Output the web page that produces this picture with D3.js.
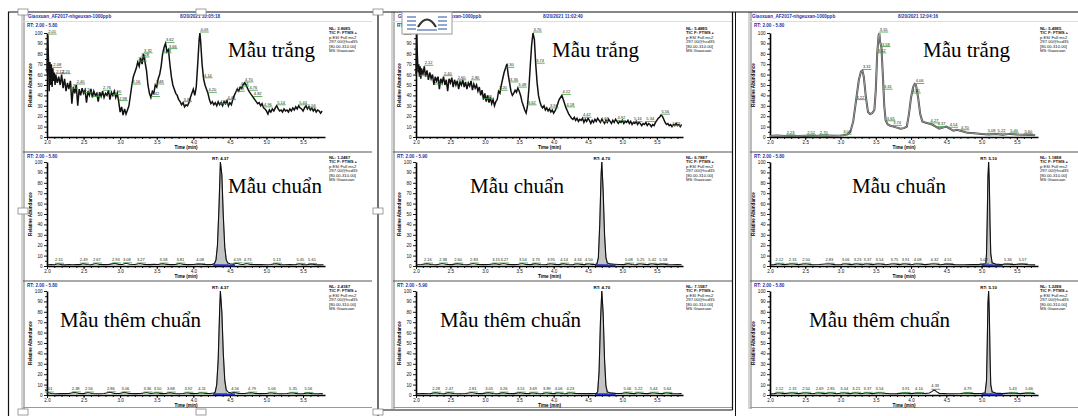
<!DOCTYPE html>
<html><head><meta charset="utf-8">
<script src="https://cdn.jsdelivr.net/npm/d3@7"></script>
<style>body{margin:0;background:#fff}svg{display:block;font-family:"Liberation Sans",Arial,sans-serif}</style>
</head><body><svg id="c" width="1078" height="416"></svg>
<script>
// ---------- DATA ----------
const sampleLabels = ["Mẫu trắng", "Mẫu chuẩn", "Mẫu thêm chuẩn"];
const yTickValues = [0,10,20,30,40,50,60,70,80,90,100];
const xTickValues = [2.0,2.5,3.0,3.5,4.0,4.5,5.0,5.5];
const timeRanges = ["RT: 2.00 - 5.80", "RT: 2.00 - 5.90", "RT: 2.00 - 5.80"];
const retentionTimes = [4.37, 4.70, 5.10];
const fileNames = ["Giaoxuan_AF2017-nhgeuxan-1000ppb", "Giaoxuan_AF2017-nhgeuxan-1000ppb", "Giaoxuan_AF2017-nhgeuxan-1000ppb"];
const runDates = ["8/20/2021 10:05:18", "8/20/2021 11:02:40", "8/20/2021 12:04:16"];
const nlValues = [["3.86E5","1.24E7","2.41E7"],["5.48E5","6.78E7","7.15E7"],["5.49E5","1.18E8","1.22E8"]];
const infoLines = ["TIC F: FTMS +", "p ESI Full ms2", "297.00@hcd35", "[80.00-310.00]", "MS Giaoxuan"];

const col1Top = [[2.00,62],[2.01,98],[2.02,75],[2.03,44],[2.04,72],[2.05,50],[2.06,70],[2.07,48],[2.08,66],[2.09,54],[2.10,62],[2.11,50],[2.12,60],[2.14,52],[2.16,58],[2.18,50],[2.20,60],[2.22,47],[2.24,56],[2.26,44],[2.28,52],[2.30,46],[2.32,54],[2.34,32],[2.36,48],[2.38,42],[2.40,50],[2.42,30],[2.44,46],[2.46,40],[2.48,47],[2.50,42],[2.52,45],[2.54,33],[2.56,44],[2.58,40],[2.60,46],[2.62,38],[2.64,44],[2.66,40],[2.68,42],[2.70,34],[2.72,43],[2.74,39],[2.76,44],[2.78,38],[2.80,42],[2.82,40],[2.84,45],[2.86,36],[2.88,43],[2.90,40],[2.92,44],[2.94,38],[2.96,42],[2.98,34],[3.00,24],[3.02,29],[3.04,21],[3.06,27],[3.08,22],[3.10,26],[3.12,30],[3.14,40],[3.16,50],[3.18,58],[3.20,62],[3.22,66],[3.24,72],[3.26,68],[3.28,76],[3.30,70],[3.32,80],[3.34,72],[3.36,64],[3.38,50],[3.40,42],[3.42,38],[3.44,44],[3.46,42],[3.48,50],[3.50,48],[3.52,56],[3.54,60],[3.56,68],[3.58,80],[3.60,86],[3.62,90],[3.64,82],[3.66,84],[3.68,70],[3.70,58],[3.72,50],[3.74,46],[3.76,42],[3.78,40],[3.80,36],[3.82,34],[3.84,31],[3.86,33],[3.88,29],[3.90,31],[3.92,30],[3.94,33],[3.96,38],[3.98,42],[4.00,46],[4.02,40],[4.04,48],[4.06,70],[4.08,94],[4.09,100],[4.10,92],[4.12,70],[4.14,56],[4.16,50],[4.18,46],[4.20,42],[4.22,36],[4.24,32],[4.26,34],[4.28,31],[4.30,33],[4.32,30],[4.34,34],[4.36,31],[4.38,33],[4.40,30],[4.42,34],[4.44,32],[4.46,35],[4.48,30],[4.50,33],[4.52,31],[4.54,36],[4.56,40],[4.58,43],[4.60,46],[4.62,44],[4.64,48],[4.66,47],[4.68,50],[4.70,52],[4.72,50],[4.74,47],[4.76,44],[4.78,42],[4.80,40],[4.82,38],[4.84,36],[4.86,34],[4.88,32],[4.90,33],[4.92,30],[4.94,32],[4.96,28],[4.98,27],[5.00,25],[5.02,22],[5.04,26],[5.06,24],[5.08,27],[5.10,25],[5.12,28],[5.14,30],[5.16,27],[5.18,25],[5.20,26],[5.22,24],[5.24,27],[5.26,25],[5.28,26],[5.30,24],[5.32,27],[5.34,25],[5.36,28],[5.38,26],[5.40,29],[5.42,27],[5.44,30],[5.46,28],[5.48,27],[5.50,25],[5.52,28],[5.54,30],[5.56,27],[5.58,29],[5.60,26],[5.62,28],[5.64,25],[5.66,27],[5.68,24],[5.70,26],[5.72,25],[5.74,23],[5.76,25]];

const col2Top = [[2.00,60],[2.01,100],[2.02,78],[2.03,62],[2.04,70],[2.05,58],[2.06,68],[2.07,56],[2.08,66],[2.10,60],[2.12,68],[2.14,58],[2.16,64],[2.18,55],[2.20,62],[2.22,56],[2.24,60],[2.26,50],[2.28,58],[2.30,54],[2.32,58],[2.34,46],[2.36,56],[2.38,52],[2.40,58],[2.42,50],[2.44,55],[2.46,44],[2.48,56],[2.50,52],[2.52,57],[2.54,48],[2.56,55],[2.58,50],[2.60,54],[2.62,46],[2.64,53],[2.66,50],[2.68,55],[2.70,48],[2.72,53],[2.74,46],[2.76,52],[2.78,49],[2.80,54],[2.82,45],[2.84,51],[2.86,47],[2.88,50],[2.90,44],[2.92,48],[2.94,40],[2.96,45],[2.98,36],[3.00,42],[3.02,34],[3.04,40],[3.06,33],[3.08,38],[3.10,32],[3.12,36],[3.14,30],[3.16,34],[3.18,36],[3.20,44],[3.22,42],[3.24,50],[3.26,56],[3.28,62],[3.30,66],[3.32,70],[3.34,60],[3.36,52],[3.38,44],[3.40,40],[3.42,42],[3.44,45],[3.46,43],[3.48,47],[3.50,44],[3.52,40],[3.54,34],[3.56,30],[3.58,26],[3.60,23],[3.62,30],[3.64,46],[3.66,68],[3.68,88],[3.70,100],[3.72,94],[3.74,70],[3.76,52],[3.78,40],[3.80,34],[3.82,30],[3.84,28],[3.86,30],[3.88,26],[3.90,28],[3.92,25],[3.94,27],[3.96,24],[3.98,26],[4.00,23],[4.02,25],[4.04,28],[4.06,32],[4.08,36],[4.10,38],[4.12,40],[4.14,36],[4.16,32],[4.18,28],[4.20,25],[4.22,22],[4.24,20],[4.26,18],[4.28,17],[4.30,19],[4.32,16],[4.34,18],[4.36,15],[4.38,17],[4.40,16],[4.42,18],[4.44,14],[4.46,17],[4.48,15],[4.50,18],[4.52,16],[4.54,13],[4.56,16],[4.58,14],[4.60,17],[4.62,15],[4.64,18],[4.66,16],[4.68,14],[4.70,17],[4.72,15],[4.74,13],[4.76,16],[4.78,14],[4.80,17],[4.82,15],[4.84,13],[4.86,16],[4.88,14],[4.90,17],[4.92,15],[4.94,13],[4.96,15],[4.98,14],[5.00,16],[5.02,13],[5.04,15],[5.06,14],[5.08,16],[5.10,13],[5.12,15],[5.14,12],[5.16,14],[5.18,13],[5.20,15],[5.22,12],[5.24,14],[5.26,13],[5.28,11],[5.30,13],[5.32,12],[5.34,14],[5.36,11],[5.38,13],[5.40,12],[5.42,10],[5.44,12],[5.46,11],[5.48,14],[5.50,16],[5.52,18],[5.54,19],[5.56,21],[5.58,20],[5.60,17],[5.62,14],[5.64,12],[5.66,13],[5.68,11],[5.70,12],[5.72,10],[5.74,12],[5.76,11],[5.78,13],[5.80,11],[5.82,12],[5.84,10],[5.86,12]];

const col3Top = [[2.00,1],[2.10,1.5],[2.20,1],[2.30,1.2],[2.40,1],[2.50,1.3],[2.60,1],[2.70,1.2],[2.80,1.5],[2.90,1.2],[3.00,1.5],[3.05,1.8],[3.10,2.5],[3.14,5],[3.18,15],[3.22,35],[3.26,55],[3.29,63],[3.31,64],[3.33,58],[3.36,38],[3.39,24],[3.42,22],[3.45,23],[3.48,26],[3.50,45],[3.52,80],[3.54,98],[3.55,100],[3.56,92],[3.58,86],[3.60,60],[3.62,30],[3.64,16],[3.67,12],[3.70,11],[3.75,10],[3.80,9],[3.85,8],[3.90,8.5],[3.94,10],[3.97,22],[4.00,38],[4.03,48],[4.05,51],[4.07,50],[4.10,38],[4.13,22],[4.16,15],[4.20,14],[4.25,13],[4.30,12],[4.35,10],[4.40,8],[4.45,9],[4.50,10],[4.55,8],[4.60,6],[4.65,7],[4.70,6],[4.75,5],[4.80,4],[4.90,3.5],[5.00,3],[5.10,2.5],[5.20,2.8],[5.30,2.2],[5.40,3],[5.50,2.5],[5.60,2.2],[5.70,2],[5.76,1.8]];

const col1Mid = [[2.00,1.0],[2.05,1.4],[2.10,1.2],[2.15,2.2],[2.20,1.3],[2.25,1.1],[2.30,1.4],[2.35,1.2],[2.40,1.5],[2.45,1.3],[2.49,2.3],[2.55,1.4],[2.60,1.2],[2.67,2.4],[2.72,1.5],[2.78,1.3],[2.85,1.6],[2.93,2.5],[2.98,1.6],[3.03,1.4],[3.08,2.6],[3.13,1.7],[3.20,1.5],[3.27,2.4],[3.33,1.5],[3.40,1.3],[3.46,1.6],[3.52,1.4],[3.58,2.3],[3.64,1.5],[3.70,1.3],[3.76,1.6],[3.81,2.4],[3.87,1.5],[3.93,1.3],[4.00,1.4],[4.08,2.0],[4.14,1.4],[4.20,1.3],[4.26,1.6],[4.29,2.5],[4.31,6],[4.33,20],[4.35,55],[4.37,100],[4.39,88],[4.41,48],[4.43,18],[4.45,6],[4.47,3],[4.50,2.2],[4.55,1.8],[4.59,2.6],[4.64,1.7],[4.68,1.5],[4.73,2.4],[4.78,1.5],[4.85,1.3],[4.92,1.5],[5.00,1.2],[5.06,1.4],[5.13,2.3],[5.19,1.3],[5.25,1.2],[5.32,1.4],[5.39,1.2],[5.45,2.1],[5.50,1.3],[5.56,1.2],[5.61,2.0],[5.67,1.3],[5.72,1.1],[5.78,1.2]];

const col1Bot = [[2.00,1.2],[2.01,2.4],[2.06,1.4],[2.12,1.2],[2.18,1.5],[2.24,1.3],[2.30,1.4],[2.38,2.5],[2.44,1.5],[2.50,1.3],[2.56,2.4],[2.62,1.4],[2.70,1.2],[2.78,1.5],[2.86,2.6],[2.92,1.6],[2.99,1.4],[3.06,2.5],[3.12,1.5],[3.20,1.3],[3.28,1.5],[3.36,2.4],[3.42,1.4],[3.50,2.2],[3.56,1.3],[3.62,1.5],[3.68,2.3],[3.74,1.4],[3.80,1.2],[3.86,1.5],[3.92,2.2],[3.98,1.3],[4.05,1.4],[4.11,2.1],[4.17,1.4],[4.23,1.5],[4.28,2.0],[4.30,3],[4.32,10],[4.34,34],[4.36,82],[4.37,100],[4.39,80],[4.41,40],[4.43,14],[4.45,5],[4.48,2.6],[4.52,1.8],[4.56,2.5],[4.62,1.6],[4.70,1.4],[4.79,2.3],[4.85,1.4],[4.92,1.3],[5.00,1.5],[5.06,2.2],[5.12,1.4],[5.20,1.2],[5.28,1.5],[5.35,2.1],[5.42,1.3],[5.50,1.2],[5.56,2.0],[5.62,1.3],[5.70,1.2],[5.77,1.3]];

const col2Mid = [[2.00,1.2],[2.08,1.4],[2.16,2.3],[2.22,1.4],[2.30,1.2],[2.38,2.4],[2.45,1.5],[2.52,1.3],[2.60,2.3],[2.68,1.4],[2.75,1.2],[2.83,2.4],[2.90,1.5],[2.98,1.3],[3.06,1.5],[3.15,2.3],[3.21,1.5],[3.27,2.4],[3.34,1.4],[3.42,1.3],[3.48,1.5],[3.54,2.4],[3.60,1.5],[3.67,1.3],[3.73,2.3],[3.80,1.4],[3.88,1.2],[3.95,2.2],[4.02,1.4],[4.08,1.3],[4.14,2.3],[4.20,1.4],[4.27,1.2],[4.34,2.2],[4.40,1.4],[4.45,1.3],[4.50,2.1],[4.56,1.5],[4.60,1.4],[4.63,2.2],[4.65,8],[4.67,40],[4.69,88],[4.70,100],[4.72,72],[4.74,30],[4.76,8],[4.78,3],[4.82,2.0],[4.88,1.7],[4.95,1.4],[5.02,1.3],[5.08,2.3],[5.14,1.4],[5.20,1.2],[5.25,2.2],[5.32,1.4],[5.38,1.3],[5.42,2.1],[5.50,1.3],[5.58,2.0],[5.65,1.3],[5.72,1.2],[5.80,1.3],[5.86,1.2]];

const col2Bot = [[2.00,1.2],[2.10,1.4],[2.20,1.2],[2.28,2.3],[2.35,1.4],[2.41,1.2],[2.47,2.3],[2.55,1.4],[2.64,1.2],[2.72,1.4],[2.81,2.4],[2.88,1.5],[2.96,1.3],[3.05,2.3],[3.12,1.4],[3.19,1.2],[3.26,2.3],[3.33,1.4],[3.42,1.3],[3.51,2.3],[3.58,1.4],[3.64,1.3],[3.69,2.2],[3.76,1.4],[3.83,1.2],[3.89,2.2],[3.96,1.4],[4.01,1.3],[4.06,2.2],[4.13,1.4],[4.18,1.2],[4.23,2.2],[4.32,1.4],[4.40,1.3],[4.48,1.5],[4.56,1.3],[4.62,1.6],[4.64,3],[4.66,22],[4.68,70],[4.70,100],[4.72,78],[4.74,34],[4.76,9],[4.78,3],[4.82,2.0],[4.90,1.6],[4.98,1.4],[5.06,2.3],[5.12,1.4],[5.18,1.3],[5.22,2.2],[5.30,1.4],[5.37,1.3],[5.44,2.2],[5.52,1.4],[5.58,1.3],[5.64,2.1],[5.72,1.3],[5.80,1.2],[5.86,1.3]];

const col3Mid = [[2.00,1.0],[2.06,1.3],[2.12,2.2],[2.20,1.3],[2.31,2.2],[2.40,1.3],[2.50,2.2],[2.60,1.2],[2.70,1.4],[2.83,2.2],[2.92,1.3],[3.00,1.2],[3.06,2.1],[3.15,1.3],[3.23,2.1],[3.30,1.2],[3.37,2.1],[3.45,1.3],[3.54,2.1],[3.64,1.2],[3.75,2.1],[3.83,1.3],[3.91,2.1],[4.00,1.2],[4.08,2.1],[4.20,1.3],[4.32,2.1],[4.42,1.2],[4.51,2.0],[4.62,1.3],[4.74,1.2],[4.86,1.4],[4.95,1.3],[5.02,2.0],[5.06,2.5],[5.07,12],[5.08,45],[5.09,85],[5.10,100],[5.11,80],[5.12,40],[5.13,12],[5.15,3],[5.20,1.8],[5.28,1.4],[5.36,2.0],[5.45,1.3],[5.57,2.0],[5.66,1.2],[5.76,1.1]];

const col3Bot = [[2.00,1.0],[2.06,1.3],[2.12,2.2],[2.20,1.3],[2.31,2.1],[2.40,1.3],[2.50,2.1],[2.60,1.2],[2.69,2.1],[2.77,1.3],[2.85,2.1],[2.95,1.2],[3.04,2.1],[3.13,1.3],[3.21,2.1],[3.29,1.2],[3.37,2.1],[3.45,1.3],[3.54,2.1],[3.70,1.2],[3.80,1.3],[3.91,2.0],[4.00,1.3],[4.10,2.0],[4.20,1.4],[4.26,2.0],[4.30,3.5],[4.33,5],[4.36,3.2],[4.40,1.6],[4.50,1.3],[4.60,1.2],[4.70,1.4],[4.79,2.0],[4.90,1.3],[5.00,1.4],[5.05,2.2],[5.07,14],[5.08,48],[5.09,88],[5.10,100],[5.11,78],[5.12,38],[5.13,10],[5.15,3],[5.20,1.8],[5.30,1.3],[5.43,2.0],[5.55,1.3],[5.66,2.0],[5.76,1.2]];

const col1TopPeaks = [2.01,2.08,2.12,2.20,2.30,2.40,2.50,2.62,2.76,2.90,2.98,3.16,3.24,3.28,3.32,3.42,3.48,3.58,3.62,3.66,3.86,4.09,4.14,4.20,4.36,4.46,4.58,4.64,4.70,4.76,4.82,4.96,5.14,5.44,5.56];
const col1MidMarks = [2.15,2.49,2.67,2.93,3.08,3.27,3.58,3.81,4.08,4.59,4.73,5.13,5.45,5.61];
const col1BotMarks = [2.01,2.38,2.56,2.86,3.06,3.36,3.50,3.68,3.92,4.11,4.56,4.79,5.06,5.35,5.56];
const col2TopPeaks = [2.01,2.05,2.12,2.26,2.40,2.60,2.80,2.98,3.20,3.30,3.36,3.48,3.62,3.70,3.74,3.94,4.12,4.18,4.42,4.68,4.92,5.16,5.34,5.56,5.72];
const col2MidMarks = [2.16,2.38,2.60,2.83,3.15,3.27,3.54,3.73,3.95,4.14,4.34,4.50,5.08,5.25,5.42,5.58];
const col2BotMarks = [2.28,2.47,2.81,3.05,3.26,3.51,3.69,3.89,4.06,4.23,5.06,5.22,5.44,5.64];
const col3TopPeaks = [2.23,2.52,2.70,3.03,3.22,3.31,3.52,3.55,3.58,3.61,3.65,3.74,4.01,4.06,4.27,4.37,4.54,4.70,5.08,5.22,5.40,5.60];
const col3MidMarks = [2.12,2.31,2.50,2.83,3.06,3.23,3.37,3.54,3.75,3.91,4.08,4.32,4.51,5.02,5.36,5.57];
const col3BotMarks = [2.12,2.31,2.50,2.69,2.85,3.04,3.21,3.37,3.54,3.91,4.10,4.33,4.79,5.43,5.66];

// ---------- LAYOUT ----------
const svg = d3.select("#c");
const columns = [
  {left:23, right:372, ax:47, xEnd:325, domain:[2.0,5.8], info:329, hdr:[28,180], traces:[col1Top,col1Mid,col1Bot], marks:[col1TopPeaks,col1MidMarks,col1BotMarks],
   lab:[[228,57],[228,193],[60,327]], topStyle:"noisy"},
  {left:393, right:732, ax:416, xEnd:683, domain:[2.0,5.88], info:686, hdr:[398,543], traces:[col2Top,col2Mid,col2Bot], marks:[col2TopPeaks,col2MidMarks,col2BotMarks],
   lab:[[552,57],[470,193],[440,327]], topStyle:"noisy"},
  {left:750, right:1078, ax:770, xEnd:1038, domain:[2.0,5.8], info:1040, hdr:[752,898], traces:[col3Top,col3Mid,col3Bot], marks:[col3TopPeaks,col3MidMarks,col3BotMarks],
   lab:[[923,57],[852,193],[809,327]], topStyle:"smooth"}
];
const rows = [{y100:33,y0:137,rt:25},{y100:162,y0:266,rt:156},{y100:291,y0:395,rt:285}];
const fmt2 = d3.format(".2f");

function valAt(tr, t){
  const i = d3.bisector(d=>d[0]).left(tr, t);
  if(i<=0) return tr[0][1]; if(i>=tr.length) return tr[tr.length-1][1];
  const a=tr[i-1], b=tr[i]; return a[1]+(b[1]-a[1])*(t-a[0])/(b[0]-a[0]);
}

columns.forEach((c, ci) => {
  const fr = svg.append("g");
  fr.append("line").attr("x1",c.left-1).attr("x2",c.left-1).attr("y1",12).attr("y2",409).attr("stroke","#aaa").attr("stroke-width",1);
  fr.append("line").attr("x1",c.left+1).attr("x2",c.left+1).attr("y1",12).attr("y2",409).attr("stroke","#777").attr("stroke-width",1);
  fr.append("line").attr("x1",c.left).attr("x2",c.right).attr("y1",21.5).attr("y2",21.5).attr("stroke","#ddd");
  [152,281].forEach(yy => fr.append("line").attr("x1",c.left).attr("x2",c.right).attr("y1",yy).attr("y2",yy).attr("stroke","#555").attr("stroke-width",1.2));
  fr.append("line").attr("x1",c.left).attr("x2",c.right).attr("y1",407.5).attr("y2",407.5).attr("stroke","#999").attr("stroke-width",1);
  fr.append("text").attr("x",c.hdr[0]).attr("y",17.5).attr("font-size",4.6).attr("font-weight","bold").attr("fill","#2233aa").text(fileNames[ci]);
  fr.append("text").attr("x",c.hdr[1]).attr("y",17.5).attr("font-size",4.6).attr("font-weight","bold").attr("fill","#2233aa").text(runDates[ci]);

  rows.forEach((r, ri) => {
    const x = d3.scaleLinear().domain(c.domain).range([c.ax, c.xEnd]);
    const y = d3.scaleLinear().domain([0,100]).range([r.y0, r.y100]);
    const g = svg.append("g");
    const tr = c.traces[ri];
    g.append("text").attr("x",c.left+4).attr("y",r.rt+1.5).attr("font-size",4.6).attr("font-weight","bold").attr("fill","#2233aa").text(timeRanges[ci]);
    const info = ["NL: "+nlValues[ci][ri]].concat(infoLines);
    info.forEach((s,k)=> g.append("text").attr("x",c.info).attr("y",(r.y100-3)+k*4.4).attr("font-size",4.2).attr("font-weight", k<2?"bold":"normal").attr("fill","#111").text(s));
    g.append("g").attr("transform",`translate(${c.ax},0)`)
      .call(d3.axisLeft(y).tickValues(yTickValues).tickSize(3).tickPadding(1.5).tickSizeOuter(0).tickFormat(d3.format("d")));
    g.append("g").attr("transform",`translate(${c.ax},0)`)
      .call(d3.axisLeft(y).tickValues(d3.range(5,100,10)).tickSize(2).tickSizeOuter(0).tickFormat(""))
      .select(".domain").remove();
    g.append("g").attr("transform",`translate(0,${r.y0})`)
      .call(d3.axisBottom(x).tickValues(xTickValues).tickSize(3).tickPadding(1).tickSizeOuter(0).tickFormat(d3.format(".1f")));
    g.append("g").attr("transform",`translate(0,${r.y0})`)
      .call(d3.axisBottom(x).tickValues(d3.range(2.1,c.domain[1],0.1)).tickSize(2).tickSizeOuter(0).tickFormat(""))
      .select(".domain").remove();
    g.selectAll(".domain").attr("stroke","#000").attr("stroke-width",1.6);
    g.selectAll(".tick line").attr("stroke","#000").attr("stroke-width",0.9);
    g.selectAll(".tick text").attr("font-size",4.6).attr("fill","#111").attr("font-family","Liberation Sans, Arial");
    g.append("text").attr("x",(c.ax+c.xEnd)/2).attr("y",r.y0+12).attr("text-anchor","middle").attr("font-size",4.6).attr("font-weight","bold").text("Time (min)");
    g.append("text").attr("transform",`translate(${c.ax-15},${(r.y0+r.y100)/2}) rotate(-90)`).attr("text-anchor","middle").attr("font-size",4.6).attr("font-weight","bold").text("Relative Abundance");

    const line = d3.line().x(d=>x(d[0])).y(d=>y(d[1]));
    if (ri === 0) {
      if (c.topStyle === "smooth") {
        g.append("path").datum(tr).attr("d",line).attr("fill","none").attr("stroke","#444").attr("stroke-width",2);
        g.append("path").datum(tr).attr("d",line).attr("fill","none").attr("stroke","#bbb").attr("stroke-width",0.7);
      } else {
        g.append("path").datum(tr).attr("d",line).attr("fill","none").attr("stroke","#111").attr("stroke-width",1.5);
      }
      c.marks[ri].forEach(t => {
        const px = x(t), py = y(valAt(tr,t));
        g.append("line").attr("x1",px).attr("x2",px+9).attr("y1",py-1).attr("y2",py-1).attr("stroke","#3a9a3a").attr("stroke-width",0.8);
        g.append("text").attr("x",px+0.5).attr("y",py-2).attr("font-size",4).attr("fill","#222").text(fmt2(t));
      });
    } else {
      const rt = retentionTimes[ci];
      const pk = tr.filter(d => d[0] >= rt-0.08 && d[0] <= rt+0.1);
      const area = d3.area().x(d=>x(d[0])).y0(y(0.8)).y1(d=>y(d[1]));
      g.append("path").datum(pk).attr("d",area).attr("fill","#c4c4c4").attr("stroke","#555").attr("stroke-width",0.6);
      g.append("line").attr("x1",x(rt-0.1)).attr("x2",x(rt+0.2)).attr("y1",y(0.8)).attr("y2",y(0.5)).attr("stroke","#2233cc").attr("stroke-width",1.8);
      g.append("path").datum(tr).attr("d",line).attr("fill","none").attr("stroke","#111").attr("stroke-width",1.1);
      g.append("text").attr("x",x(rt)).attr("y",y(100)-2).attr("text-anchor","middle").attr("font-size",4.4).attr("font-weight","bold").text("RT: "+fmt2(rt));
      c.marks[ri].forEach(t => {
        const px = x(t), py = y(valAt(tr,t));
        g.append("line").attr("x1",px-3).attr("x2",px+6).attr("y1",py-0.5).attr("y2",py-0.5).attr("stroke","#3a9a3a").attr("stroke-width",0.8);
        g.append("text").attr("x",px-3).attr("y",py-2.5).attr("font-size",4).attr("fill","#222").text(fmt2(t));
      });
    }
    svg.append("text").attr("x",c.lab[ri][0]).attr("y",c.lab[ri][1])
      .style("font-family","'Liberation Serif', 'Times New Roman', serif")
      .attr("font-size",21).attr("fill","#000").text(sampleLabels[ri]);
  });
});

// outer frames
const o = svg.append("g").attr("fill","none");
o.append("line").attr("x1",8).attr("x2",1078).attr("y1",12).attr("y2",12).attr("stroke","#111").attr("stroke-width",1.2);
o.append("line").attr("x1",8.5).attr("x2",8.5).attr("y1",12).attr("y2",416).attr("stroke","#111").attr("stroke-width",1.2);
o.append("line").attr("x1",378).attr("x2",378).attr("y1",12).attr("y2",416).attr("stroke","#111").attr("stroke-width",1.2);
o.append("line").attr("x1",732.5).attr("x2",732.5).attr("y1",12).attr("y2",410).attr("stroke","#111").attr("stroke-width",1.2);
o.append("line").attr("x1",378).attr("x2",732.5).attr("y1",410).attr("y2",410).attr("stroke","#111").attr("stroke-width",1.2);
o.append("line").attr("x1",735.5).attr("x2",735.5).attr("y1",12).attr("y2",416).attr("stroke","#111").attr("stroke-width",1);
[[23,12],[201,12],[378,12],[23,211],[378,211],[23,412],[201,412],[378,412]].forEach(p =>
  svg.append("rect").attr("x",p[0]-5).attr("y",p[1]-3).attr("width",10).attr("height",6).attr("fill","#fff").attr("stroke","#888").attr("stroke-width",0.8));
const ic = svg.append("g");
ic.append("rect").attr("x",402).attr("y",12).attr("width",50).attr("height",22).attr("fill","#fff").attr("stroke","#999");
[17,21,25,29].forEach(yy => {
  ic.append("line").attr("x1",407).attr("x2",416).attr("y1",yy).attr("y2",yy).attr("stroke","#4a6fb5").attr("stroke-width",1.2);
  ic.append("line").attr("x1",438).attr("x2",447).attr("y1",yy).attr("y2",yy).attr("stroke","#4a6fb5").attr("stroke-width",1.2);
});
ic.append("path").attr("d","M418,27 Q427,12 436,27").attr("fill","none").attr("stroke","#333").attr("stroke-width",2.2);
ic.append("line").attr("x1",417).attr("x2",437).attr("y1",30).attr("y2",30).attr("stroke","#4a6fb5").attr("stroke-width",1.2);
</script></body></html>
